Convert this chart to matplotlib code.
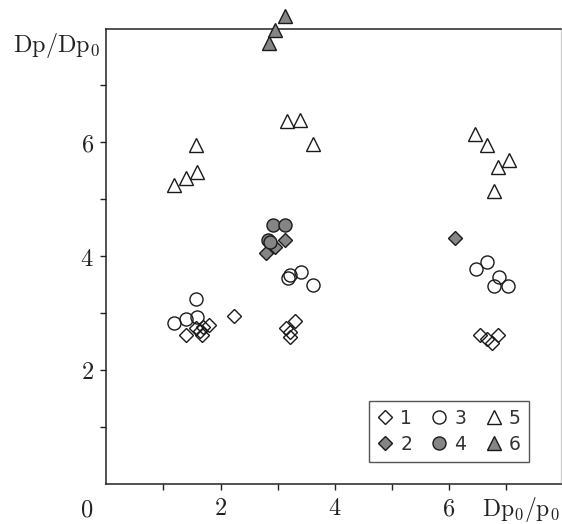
import matplotlib
matplotlib.use("Agg")
import matplotlib.pyplot as plt

plt.rcParams['mathtext.fontset'] = 'cm'

# Series 1: open diamonds
s1_x = [1.39, 1.57, 1.64, 1.68, 1.80, 1.70, 2.23, 3.14, 3.21, 3.30, 3.22, 6.55, 6.66, 6.75, 6.85]
s1_y = [2.61, 2.74, 2.69, 2.62, 2.78, 2.76, 2.95, 2.73, 2.58, 2.85, 2.67, 2.61, 2.54, 2.47, 2.61]
# Series 2: filled diamonds
s2_x = [2.80, 2.95, 3.13, 6.11]
s2_y = [4.05, 4.16, 4.29, 4.31]
# Series 3: open circles
s3_x = [1.18, 1.39, 1.57, 1.58, 3.18, 3.22, 3.40, 3.62, 6.48, 6.67, 6.88, 6.78, 7.03]
s3_y = [2.82, 2.90, 3.24, 2.93, 3.61, 3.67, 3.72, 3.49, 3.77, 3.90, 3.64, 3.48, 3.48]
# Series 4: filled circles
s4_x = [2.92, 3.13, 2.83, 2.87]
s4_y = [4.54, 4.54, 4.28, 4.25]
# Series 5: open triangles
s5_x = [1.18, 1.40, 1.58, 1.57, 3.16, 3.39, 3.62, 6.46, 6.67, 7.05, 6.86, 6.78]
s5_y = [5.25, 5.37, 5.48, 5.95, 6.37, 6.39, 5.97, 6.15, 5.96, 5.68, 5.56, 5.15]
# Series 6: filled triangles
s6_x = [2.85, 2.95, 3.13]
s6_y = [7.75, 7.97, 8.22]

labels = ['1', '2', '3', '4', '5', '6']
x_ticks = [1, 2, 3, 4, 5, 6, 7]
x_ticklabels = ['', '2', '', '4', '', '6', '']
y_ticks = [1, 2, 3, 4, 5, 6, 7]
y_ticklabels = ['', '2', '', '4', '', '6', '']

fig = plt.figure(figsize=(5.62, 5.24), dpi=100)
ax = fig.add_axes([0.1893, 0.0771, 0.8089, 0.8685])

edge = '#1a1a1a'
gray = '#858585'
common = dict(linestyle='none', markeredgecolor=edge, markeredgewidth=1.0, clip_on=False)

ax.plot(s1_x, s1_y, marker='D', ms=7.6, mfc='none', label=labels[0], zorder=3, **common)
ax.plot(s2_x, s2_y, marker='D', ms=7.6, mfc=gray, label=labels[1], zorder=4, **common)
ax.plot(s3_x, s3_y, marker='o', ms=9.4, mfc='none', label=labels[2], zorder=3, **common)
ax.plot(s4_x, s4_y, marker='o', ms=9.4, mfc=gray, label=labels[3], zorder=5, **common)
ax.plot(s5_x, s5_y, marker='^', ms=10.5, mfc='none', label=labels[4], zorder=3, **common)
ax.plot(s6_x, s6_y, marker='^', ms=10.5, mfc=gray, label=labels[5], zorder=5, **common)

ax.set_xlim(0, 7.96)
ax.set_ylim(0, 8.0)

ax.set_xticks(x_ticks)
ax.set_xticklabels(['$%s$' % t if t else '' for t in x_ticklabels])
ax.set_yticks(y_ticks)
ax.set_yticklabels(['$%s$' % t if t else '' for t in y_ticklabels])
ax.tick_params(direction='out', length=4, width=1.0, labelsize=17.5, colors='#222222')
ax.tick_params(axis='x', pad=5)
ax.tick_params(axis='y', pad=5)

for s in ['left', 'bottom', 'top']:
    ax.spines[s].set_color('#222222')
    ax.spines[s].set_linewidth(1.1)
ax.spines['right'].set_color('#cccccc')
ax.spines['right'].set_linewidth(1.0)

# origin label and axis titles
ax.text(-0.34, -0.45, '$0$', transform=ax.transData, ha='center', va='center', fontsize=17.5, color='#222222')
fig.text(100 / 562, 1 - 45 / 524, r'$\mathrm{Dp/Dp_0}$', ha='right', va='center', fontsize=17.5, color='#222222')
fig.text(560 / 562, 1 - 510 / 524, r'$\mathrm{Dp_0/p_0}$', ha='right', va='center', fontsize=17, color='#222222')

leg = ax.legend(ncol=3, loc='lower right', bbox_to_anchor=(0.9296, 0.0475), borderaxespad=0,
                fancybox=False, framealpha=1, edgecolor='#555555',
                handlelength=0.9, handletextpad=0.35, columnspacing=1.0, labelspacing=0.35,
                borderpad=0.45, prop={'family': 'DejaVu Sans', 'size': 13.5})
leg.get_frame().set_linewidth(1.0)
for t in leg.get_texts():
    t.set_color('#333333')

fig.savefig('out.png', dpi=100)
